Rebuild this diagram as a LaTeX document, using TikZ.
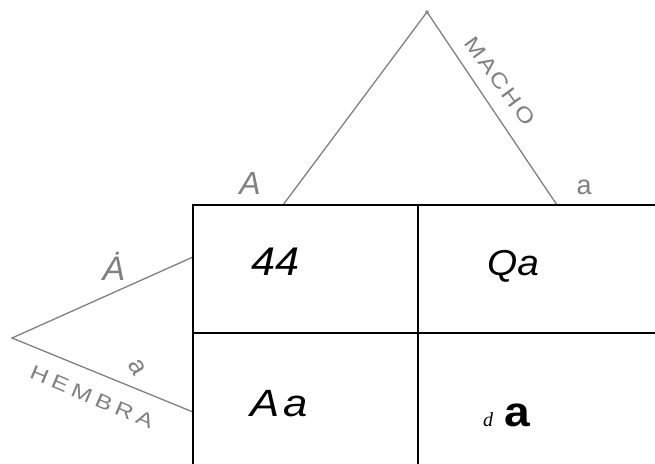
\documentclass[tikz,border=0pt]{standalone}
\usepackage{graphicx}
\usepackage{fontspec}
\setmainfont{Liberation Sans}
\newfontfamily\serifit{Liberation Serif}
\begin{document}
\begin{tikzpicture}[x=1pt,y=-1pt,
  leg/.style={draw=black!50, line width=1.3pt},
  gridline/.style={draw=black, line width=2.4pt},
  hand/.style={text=black!50, inner sep=0pt},
  cell/.style={inner sep=0pt, anchor=base}]
\useasboundingbox (0,0) rectangle (655,463);
% male branch
\coordinate (mtop) at (427,12);
\coordinate (mA) at (283,205);
\coordinate (ma) at (557,205);
\draw[leg] (mA) -- (mtop) -- (ma);
\node[circle, draw=black!50, line width=0.6pt, inner sep=1.2pt] (apex) at (mtop) {};
\node[hand, font=\fontsize{32}{32}\selectfont\itshape] (lA) at (250,183) {A};
\node[hand, font=\fontsize{27}{27}\selectfont] (la) at (584,187) {a};
\node[hand, font=\fontsize{21}{21}\selectfont, rotate=-54] (macho) at (500,81)
  {\scalebox{1.2}[1]{M\kern2pt A\kern2pt C\kern2pt H\kern2pt O}};
% female branch
\coordinate (ftip) at (12,338);
\coordinate (fA) at (193,257);
\coordinate (fa) at (193,412);
\draw[leg] (fA) -- (ftip) -- (fa);
\node[hand, font=\fontsize{34}{34}\selectfont\itshape] (lfA) at (114,266) {\.A};
\node[hand, font=\fontsize{26}{26}\selectfont, rotate=-60] (lfa) at (137,367) {a};
\node[hand, font=\fontsize{20}{20}\selectfont, rotate=-23] (hembra) at (92,397)
  {\scalebox{1.25}[1]{H\kern4pt E\kern4pt M\kern4pt B\kern4pt R\kern4pt A}};
% grid
\coordinate (g00) at (193,205);
\coordinate (g10) at (418,205);
\coordinate (g20) at (660,205);
\coordinate (g01) at (193,333);
\coordinate (g21) at (660,333);
\coordinate (g02) at (193,470);
\coordinate (g12) at (418,470);
\draw[gridline] (g20) -- (g00) -- (g02);
\draw[gridline] (g10) -- (g12);
\draw[gridline] (g01) -- (g21);
% cells
\node[cell, font=\fontsize{40}{40}\selectfont\itshape] (c11) at (276,275) {\scalebox{1.08}[1]{44}};
\node[cell, font=\fontsize{36}{36}\selectfont\itshape] (c12) at (513,275) {\scalebox{1.08}[1]{Qa}};
\node[cell, font=\fontsize{38}{38}\selectfont\itshape] (c21) at (279,416) {\scalebox{1.15}[1]{A\kern3pt a}};
\node[cell, font=\serifit\itshape\fontsize{20}{20}\selectfont] (c22d) at (488,426) {d};
\node[cell, font=\fontsize{42}{42}\selectfont] (c22a) at (517,426) {\scalebox{1.1}[1]{\textbf{a}}};
\end{tikzpicture}
\end{document}
